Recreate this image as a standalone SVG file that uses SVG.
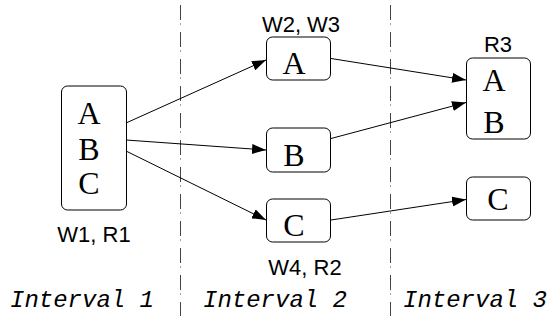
<svg xmlns="http://www.w3.org/2000/svg" width="550" height="320" viewBox="0 0 550 320">
<defs>
<marker id="arr" viewBox="0 0 14 10" refX="14" refY="5" markerWidth="14" markerHeight="10" markerUnits="userSpaceOnUse" orient="auto">
<path d="M0,0 L14,5 L0,10 z" fill="#000"/>
</marker>
</defs>
<style>
.box{fill:#fff;stroke:#000;stroke-width:1}
.let{font-family:"Liberation Serif",serif;font-size:32px;fill:#000;text-anchor:middle}
.lab{font-family:"Liberation Sans",sans-serif;font-size:22px;fill:#000;text-anchor:middle}
.int{font-family:"Liberation Mono",monospace;font-style:italic;font-size:24px;fill:#000}
.sep{stroke:#444;stroke-width:1;stroke-dasharray:15 3.5 1 7.5;fill:none}
.edge{stroke:#000;stroke-width:1;fill:none;marker-end:url(#arr)}
</style>
<g id="separators">
<line class="sep" x1="180.5" y1="5" x2="180.5" y2="316"/>
<line class="sep" x1="390.5" y1="5" x2="390.5" y2="316"/>
</g>
<g id="connectors">
<line class="edge" x1="126" y1="123" x2="266" y2="60"/>
<line class="edge" x1="126" y1="140" x2="266" y2="150"/>
<line class="edge" x1="126" y1="151" x2="266" y2="220"/>
<line class="edge" x1="331" y1="58.5" x2="466" y2="80"/>
<line class="edge" x1="331" y1="138.5" x2="466" y2="102.5"/>
<line class="edge" x1="331" y1="220" x2="466" y2="199.5"/>
</g>
<g id="node-w1">
<rect class="box" x="61.5" y="86" width="65" height="124" rx="6"/>
<text class="let" x="89" y="124">A</text>
<text class="let" x="89" y="160">B</text>
<text class="let" x="89" y="194">C</text>
<text class="lab" x="94" y="242">W1, R1</text>
</g>
<g id="node-a2">
<rect class="box" x="266.5" y="37" width="64" height="43" rx="6"/>
<text class="let" x="294" y="74">A</text>
<text class="lab" x="301" y="32">W2, W3</text>
</g>
<g id="node-b2">
<rect class="box" x="266.5" y="128" width="64" height="44" rx="6"/>
<text class="let" x="294" y="166">B</text>
</g>
<g id="node-c2">
<rect class="box" x="266.5" y="199" width="64" height="43" rx="6"/>
<text class="let" x="294" y="236">C</text>
<text class="lab" x="305" y="275">W4, R2</text>
</g>
<g id="node-ab3">
<rect class="box" x="466.5" y="58" width="64" height="81" rx="6"/>
<text class="let" x="494" y="91">A</text>
<text class="let" x="494" y="133">B</text>
<text class="lab" x="498" y="52">R3</text>
</g>
<g id="node-c3">
<rect class="box" x="466.5" y="177" width="64" height="43" rx="6"/>
<text class="let" x="498" y="210">C</text>
</g>
<g id="intervals">
<text class="int" x="10" y="307">Interval 1</text>
<text class="int" x="203" y="307">Interval 2</text>
<text class="int" x="403" y="307">Interval 3</text>
</g>
</svg>
